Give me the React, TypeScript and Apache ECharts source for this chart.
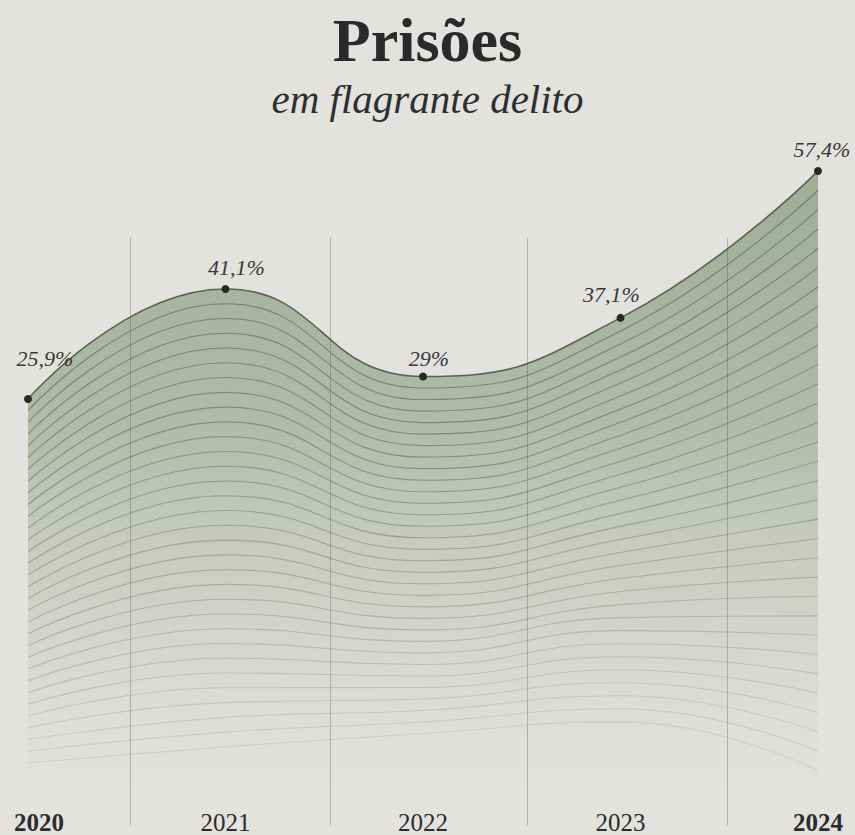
import React, { useEffect, useRef } from "react";
import * as echarts from "echarts";

// ---- data ----
const years = [2020, 2021, 2022, 2023, 2024];
const values = [25.9, 41.1, 29, 37.1, 57.4];
// lowest (faded) contour line of the decorative ribbon, in the same % scale
const baseValues = [-26.0, -24.2, -21.9, -20.5, -28.1];
const contourCount = 32;
// vertical divider positions (in year units)
const dividerYears = [2020.52, 2021.53, 2022.53, 2023.54];
const dividerTop = 48.2;
const dividerBottom = -33;

// ---- styles ----
const labelOffsets: [number, number][] = [
  [17, -20],
  [11, -1],
  [6, 2],
  [-9, -3],
  [4, -1],
];
const SERIF = "Liberation Serif";
const BG = "#e3e2df";

function fmt(v: number) {
  return String(v).replace(".", ",") + "%";
}

export default function App() {
  const ref = useRef<HTMLDivElement>(null);
  useEffect(() => {
    if (!ref.current) return;
    const chart = echarts.init(ref.current, undefined, { renderer: "svg" });

    const topData = years.map((yr, i) => [yr, values[i]]);

    const contourSeries: any[] = [];
    for (let k = 1; k < contourCount; k++) {
      const t = k / contourCount;
      const alpha = 0.55 - 0.45 * t;
      contourSeries.push({
        type: "line",
        smooth: true,
        symbol: "none",
        silent: true,
        clip: false,
        z: 2,
        data: years.map((yr, i) => [yr, values[i] + t * (baseValues[i] - values[i])]),
        lineStyle: { color: `rgba(70,88,60,${alpha.toFixed(3)})`, width: 1.1 },
        emphasis: { disabled: true },
      });
    }

    const fill = new echarts.graphic.LinearGradient(
      0,
      170,
      0,
      810,
      [
        { offset: 0, color: "rgba(108,130,92,0.8)" },
        { offset: 0.4, color: "rgba(118,138,102,0.64)" },
        { offset: 0.72, color: "rgba(150,160,140,0.3)" },
        { offset: 1, color: "rgba(200,200,196,0)" },
      ],
      true
    );

    chart.setOption({
      animation: false,
      backgroundColor: BG,
      title: [
        {
          text: "Prisões",
          left: "center",
          top: 5,
          padding: [5, 5, 5, 21],
          textStyle: {
            fontFamily: SERIF,
            fontWeight: "bold",
            fontSize: 62,
            lineHeight: 60,
            color: "#2a2a2a",
          },
        },
        {
          text: "em flagrante delito",
          left: "center",
          top: 74,
          padding: [5, 5, 5, 19],
          textStyle: {
            fontFamily: SERIF,
            fontStyle: "italic",
            fontWeight: "normal",
            fontSize: 41,
            lineHeight: 40,
            color: "#2f2f2f",
          },
        },
      ],
      grid: {
        left: 28,
        right: 37,
        top: 152.1,
        bottom: 9.6,
        containLabel: false,
        outerBoundsMode: "none",
      },
      xAxis: {
        type: "value",
        min: 2020,
        max: 2024,
        interval: 1,
        axisLine: { show: false },
        axisTick: { show: false },
        splitLine: { show: false },
        axisLabel: {
          showMinLabel: true,
          showMaxLabel: true,
          margin: -15,
          fontFamily: SERIF,
          fontSize: 25,
          color: "#2c2c2c",
          formatter: (v: number) =>
            v === 2020 ? `{first|${v}}` : v === 2024 ? `{last|${v}}` : `{mid|${v}}`,
          rich: {
            first: { fontFamily: SERIF, fontSize: 25, fontWeight: "bold", color: "#2c2c2c", padding: [0, 0, 0, 22] },
            last: { fontFamily: SERIF, fontSize: 25, fontWeight: "bold", color: "#2c2c2c" },
            mid: { fontFamily: SERIF, fontSize: 25, color: "#2c2c2c" },
          },
        },
      },
      yAxis: {
        type: "value",
        min: -33,
        max: 60,
        show: false,
        splitLine: { show: false },
      },
      series: [
        {
          type: "line",
          smooth: true,
          symbol: "none",
          silent: true,
          clip: false,
          z: 1,
          data: topData,
          lineStyle: { width: 0 },
          areaStyle: { color: fill, origin: "start" },
          markLine: {
            silent: true,
            symbol: "none",
            label: { show: false },
            lineStyle: { color: "rgba(70,70,70,0.3)", width: 1, type: "solid" },
            emphasis: { disabled: true },
            data: dividerYears.map((x) => [
              { coord: [x, dividerTop] },
              { coord: [x, dividerBottom] },
            ]),
          },
        },
        ...contourSeries,
        {
          type: "line",
          smooth: true,
          clip: false,
          z: 3,
          symbol: "circle",
          symbolSize: 8,
          itemStyle: { color: "#262b25" },
          lineStyle: { color: "#56664e", width: 1.6 },
          emphasis: { disabled: true },
          data: topData.map((d, i) => ({
            value: d,
            label: { offset: labelOffsets[i] },
          })),
          label: {
            show: true,
            position: "top",
            fontFamily: SERIF,
            fontStyle: "italic",
            fontSize: 22,
            color: "#383838",
            formatter: (p: any) => fmt(values[p.dataIndex]),
          },
        },
      ],
    });
    return () => chart.dispose();
  }, []);

  return (
    <div
      ref={ref}
      style={{ position: "absolute", left: 0, top: 0, width: 855, height: 835, background: BG }}
    />
  );
}
